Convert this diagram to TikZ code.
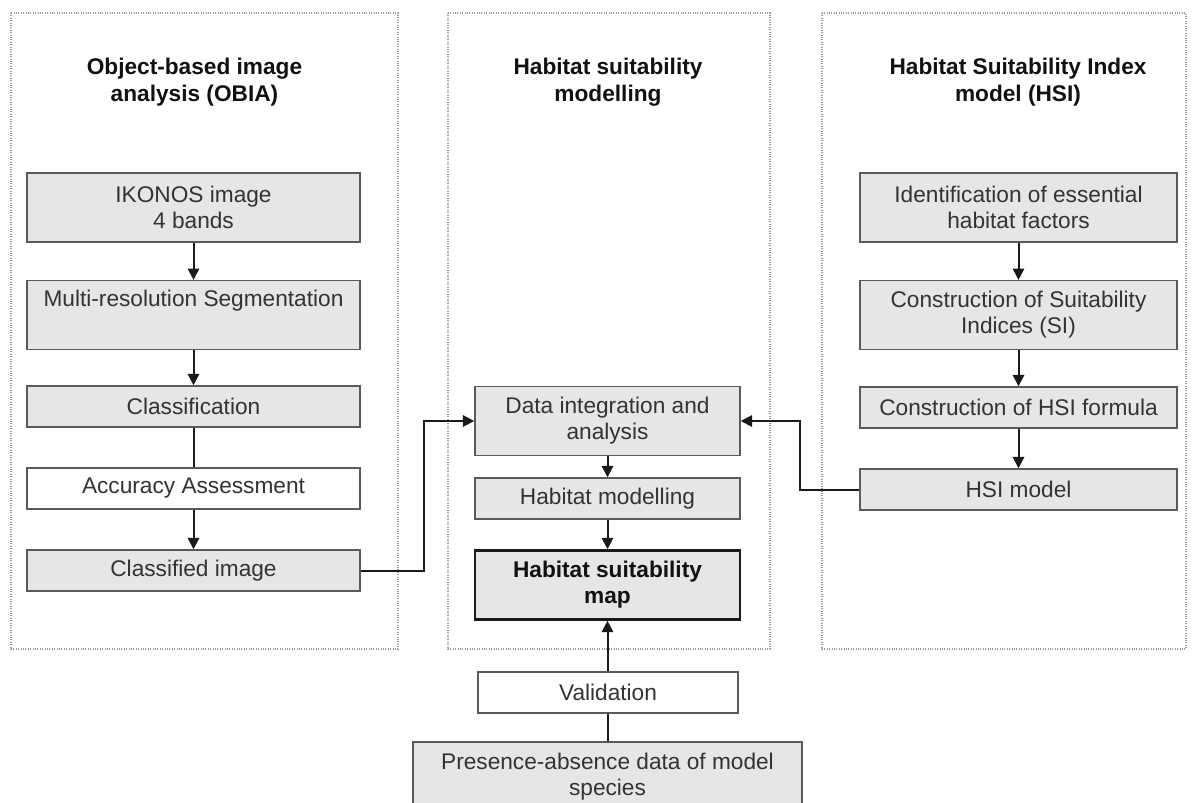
\documentclass[tikz,border=0pt]{standalone}
\usepackage{fontspec}
\setmainfont{Liberation Sans}
\usetikzlibrary{arrows.meta,calc}
\definecolor{boxfill}{HTML}{E6E6E6}
\definecolor{boxline}{HTML}{5A5A5A}
\definecolor{boxtext}{HTML}{333333}
\definecolor{panelline}{HTML}{9A9A9A}
\definecolor{arrowcol}{HTML}{1A1A1A}
\definecolor{titletext}{HTML}{111111}
\begin{document}
\begin{tikzpicture}[x=0.75pt,y=-0.75pt,
  panel/.style={draw=panelline, line width=0.8pt, densely dotted},
  box/.style={draw=boxline, line width=1.1pt, fill=boxfill, text=boxtext, inner sep=0pt,
    align=center, font=\fontsize{17pt}{19.5pt}\selectfont},
  whitebox/.style={box, fill=white},
  mapbox/.style={box, draw=arrowcol, line width=2.2pt, text=titletext,
    font=\fontsize{17pt}{19.5pt}\selectfont\bfseries},
  lw/.style={minimum width=249.75pt},
  mw/.style={minimum width=198.75pt},
  rw/.style={minimum width=237.75pt},
  tall/.style={minimum height=51.5pt},
  short/.style={minimum height=30.75pt},
  title/.style={align=center, text=titletext, inner sep=0pt,
    font=\fontsize{17pt}{20.25pt}\selectfont\bfseries},
  ln/.style={draw=arrowcol, line width=1.5pt},
  arr/.style={ln, -{Triangle[length=8.5pt,width=8.5pt]}}
]
\useasboundingbox (0,0) rectangle (1196,803);
\clip (0,0) rectangle (1196,803);

% panels
\draw[panel] (11,13) rectangle (398,649);
\draw[panel] (448,13) rectangle (770,649);
\draw[panel] (822,13) rectangle (1186,649);

% titles
\node[title] (tleft) at (194.5,82) {Object-based image\\analysis (OBIA)};
\node[title] (tmid) at (608,82) {Habitat suitability\\modelling};
\node[title] (tright) at (1018,82) {Habitat Suitability Index\\model (HSI)};

% left column
\node[box,lw,tall] (ikonos) at (193.5,207.5) {IKONOS image\\4 bands};
\node[box,lw,tall] (multi) at (193.5,315) {Multi-resolution Segmentation\\\strut};
\node[box,lw,short] (classif) at (193.5,406.5) {Classification};
\node[whitebox,lw,short] (accur) at (193.5,488.5) {Accuracy Assessment};
\node[box,lw,short] (classified) at (193.5,570.5) {Classified image};

% middle column
\node[box,mw,tall] (data) at (607.5,421) {Data integration and\\analysis};
\node[box,mw,short] (hmod) at (607.5,498.5) {Habitat modelling};
\node[mapbox,mw,tall] (map) at (607.5,585) {Habitat suitability\\map};
\node[whitebox,minimum width=195pt,short] (valid) at (608,692.5) {Validation};
\node[box,minimum width=291.75pt,tall] (pres) at (607.5,776.5) {Presence-absence data of model\\species};

% right column
\node[box,rw,tall] (ident) at (1018.5,207.5) {Identification of essential\\habitat factors};
\node[box,rw,tall] (conssi) at (1018.5,315) {Construction of Suitability\\Indices (SI)};
\node[box,rw,short] (conshsi) at (1018.5,407.5) {Construction of HSI formula};
\node[box,rw,short] (hsi) at (1018.5,489.5) {HSI model};

\coordinate (lbend) at (424,0);
\coordinate (rbend) at (800,0);

% connectors
\draw[arr] (ikonos) -- (multi);
\draw[arr] (multi) -- (classif);
\draw[ln] (classif) -- (accur);
\draw[arr] (accur) -- (classified);
\draw[arr] (classified.east) -| (lbend |- data.west) -- (data.west);
\draw[arr] (data) -- (hmod);
\draw[arr] (hmod) -- (map);
\draw[arr] (valid.north -| map.south) -- (map.south);
\draw[ln] (pres.north) -- (pres.north |- valid.south);
\draw[arr] (ident) -- (conssi);
\draw[arr] (conssi) -- (conshsi);
\draw[arr] (conshsi) -- (hsi);
\draw[arr] (hsi.west) -| (rbend |- data.east) -- (data.east);
\end{tikzpicture}
\end{document}
